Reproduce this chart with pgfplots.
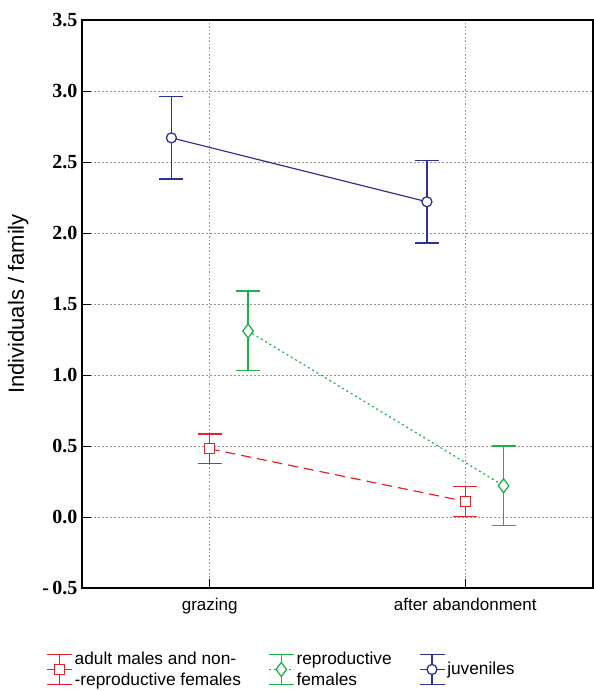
\documentclass[border=0pt]{standalone}
\usepackage{pgfplots}
\pgfplotsset{compat=1.18}
\usepackage{fontspec}
\setmainfont{Liberation Serif}
\setsansfont{Liberation Sans}
\definecolor{cred}{RGB}{232,32,42}
\definecolor{cgreen}{RGB}{30,176,75}
\definecolor{cblue}{RGB}{46,49,146}
\definecolor{cgrid}{RGB}{150,150,150}
\begin{document}
\begin{tikzpicture}
\begin{axis}[name=ax, scale only axis, width=511pt, height=568pt,
 xmin=-0.5, xmax=1.5, ymin=-0.5, ymax=3.5,
 xtick={0,1}, xticklabels={grazing, after abandonment},
 ytick={-0.5,0,0.5,1,1.5,2,2.5,3,3.5},
 yticklabels={{-\,0.5},0.0,0.5,1.0,1.5,2.0,2.5,3.0,3.5},
 tick align=inside, major tick length=9pt, tick style={black, line width=0.9pt},
 xtick pos=bottom, ytick pos=left,
 grid=major, major grid style={cgrid, dash pattern=on 2pt off 2pt, line width=0.7pt},
 x grid style={cgrid, dash pattern=on 1.5pt off 2pt, line width=0.8pt},
 axis line style={line width=1.1pt},
 yticklabel style={font=\fontsize{20}{24}\selectfont\bfseries, xshift=-1pt},
 xticklabel style={font=\sffamily\fontsize{17}{20}\selectfont, yshift=-7pt},
 ylabel={Individuals / family},
 ylabel style={font=\sffamily\fontsize{22}{26}\selectfont, at={(axis description cs:-0.125,0.5)}, anchor=center},
 legend columns=3,
 legend style={draw=none, fill=none, at={(axis description cs:-0.0763,-0.1056)}, anchor=north west,
   nodes={align=left, font=\sffamily\fontsize{17.3}{20.5}\selectfont, inner sep=2pt},
   /tikz/every even column/.append style={column sep=25pt}},
 legend image code/.code={
   \draw[solid, line width=1.5pt] (12.5pt,-15pt)--(12.5pt,15pt) (0pt,-15pt)--(25pt,-15pt) (0pt,15pt)--(25pt,15pt);
   \draw[mark repeat=2, mark phase=2] plot coordinates {(0pt,0pt)(12.5pt,0pt)(25pt,0pt)};
 },
 error bars/error bar style={solid, line width=1.5pt},
 error bars/error mark options={rotate=90, mark size=12pt, line width=1.5pt, solid},
]
\addplot[cred, line width=1.2pt, dash pattern=on 10pt off 6pt, mark=square*, mark size=5pt,
  mark options={solid, fill=white, line width=1.3pt},
  error bars/.cd, y dir=both, y explicit]
  coordinates {(0,0.48) +- (0,0.105) (1,0.11) +- (0,0.105)};
\addlegendentry{{adult males and non-\\-reproductive females}}
\addplot[cgreen, line width=1.2pt, dash pattern=on 2pt off 3pt, mark=diamond*, mark size=7pt,
  mark options={solid, fill=white, line width=1.3pt},
  error bars/.cd, y dir=both, y explicit]
  coordinates {(0.15,1.31) +- (0,0.28) (1.15,0.22) +- (0,0.28)};
\addlegendentry{{reproductive\\females}}
\addplot[cblue, line width=1.2pt, mark=*, mark size=5pt,
  mark options={solid, fill=white, line width=1.3pt},
  error bars/.cd, y dir=both, y explicit]
  coordinates {(-0.15,2.67) +- (0,0.29) (0.85,2.22) +- (0,0.29)};
\addlegendentry{juveniles}
\end{axis}
\pgfresetboundingbox
\path[use as bounding box] ([xshift=-82pt,yshift=-103pt]ax.south west) rectangle ([xshift=1pt,yshift=20pt]ax.north east);
\end{tikzpicture}
\end{document}
